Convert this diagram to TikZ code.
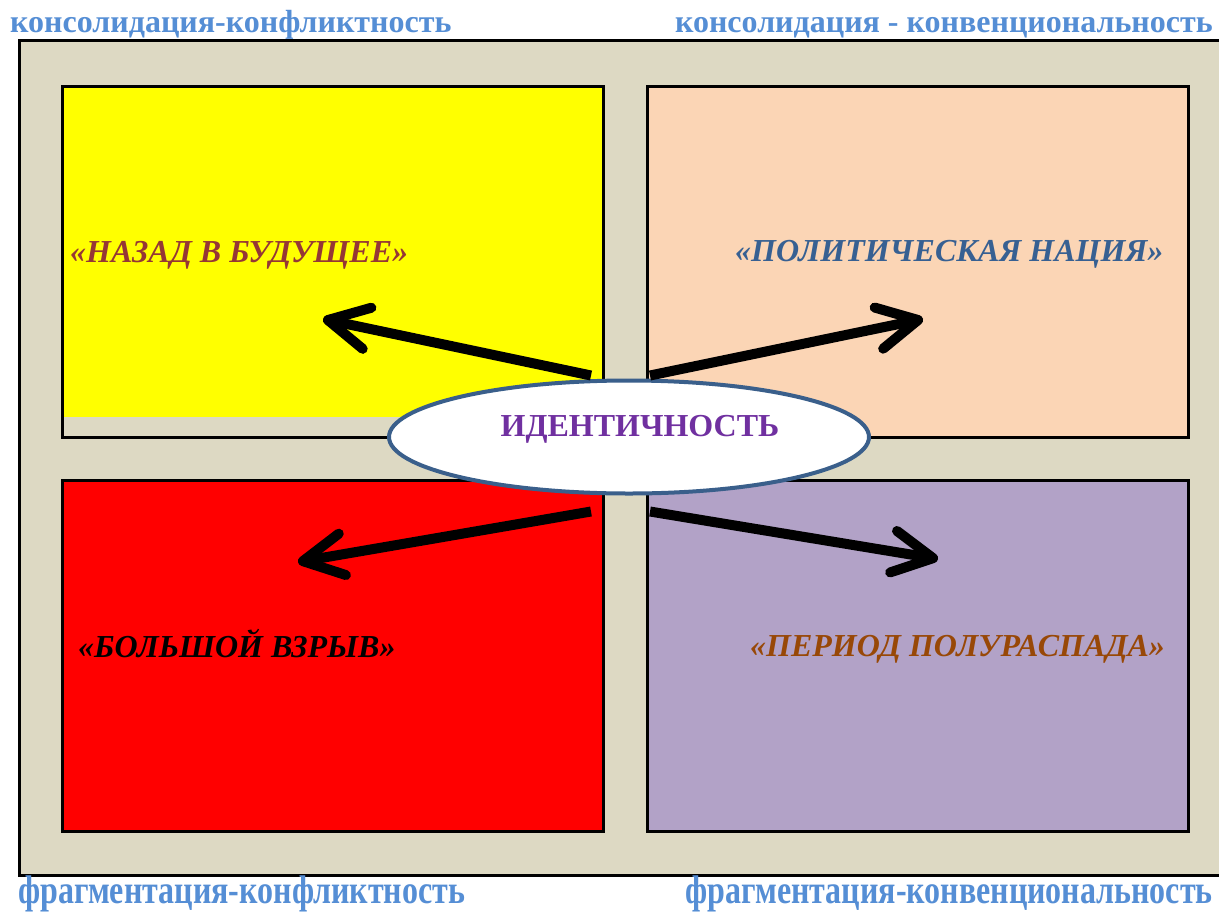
\documentclass[tikz,border=0pt]{standalone}
\usepackage{fontspec}
\setmainfont{Liberation Serif}
\usetikzlibrary{arrows.meta,shapes.geometric}
\definecolor{beige}{RGB}{221,217,195}
\definecolor{yel}{RGB}{255,255,0}
\definecolor{redq}{RGB}{255,0,0}
\definecolor{peach}{RGB}{251,213,181}
\definecolor{lilac}{RGB}{178,162,199}
\definecolor{ellblue}{RGB}{58,95,139}
\definecolor{idcol}{RGB}{112,48,160}
\definecolor{cornercol}{RGB}{85,142,213}
\definecolor{darkred}{RGB}{149,55,53}
\definecolor{steelblue}{RGB}{55,96,146}
\definecolor{brownq}{RGB}{152,72,7}
\begin{document}
\begin{tikzpicture}[x=1pt,y=-1pt,
  quad/.style={draw=black,line width=2.5pt,minimum width=541pt,minimum height=351pt,inner sep=0pt,anchor=north west},
  lab/.style={font=\fontsize{32}{38}\selectfont\bfseries\itshape,inner sep=0pt,anchor=base west},
  corner/.style={font=\fontsize{32}{38}\selectfont\bfseries,text=cornercol,inner sep=0pt,anchor=base west},
  bcorner/.style={font=\fontsize{40}{46}\selectfont\bfseries,text=cornercol,inner sep=0pt,anchor=base west,xscale=0.80},
  arr/.style={line width=10pt,-{Straight Barb[length=40pt,width=42pt,round]}}]
\useasboundingbox (0,0) rectangle (1219,911);
\fill[white] (0,0) rectangle (1219,911);
% outer frame
\draw[fill=beige,line width=3pt] (19,40) rectangle (1240,875);
% quadrants
\node[quad,fill=beige,path picture={\fill[yel] (path picture bounding box.north west) rectangle ([yshift=20pt]path picture bounding box.south east);}] (nw) at (61,85) {};
\node[quad,fill=peach] (ne) at (646,85) {};
\node[quad,fill=redq] (sw) at (61,479) {};
\node[quad,fill=lilac] (se) at (646,479) {};
% labels
\node[lab,text=darkred] (l1) at (70,262) {«НАЗАД В БУДУЩЕЕ»};
\node[lab,text=steelblue] (l2) at (735,261) {«ПОЛИТИЧЕСКАЯ НАЦИЯ»};
\node[lab,text=black] (l3) at (78,657) {«БОЛЬШОЙ ВЗРЫВ»};
\node[lab,text=brownq] (l4) at (750,656) {«ПЕРИОД ПОЛУРАСПАДА»};
% centre
\node[ellipse,draw=ellblue,line width=4pt,fill=white,minimum width=480pt,minimum height=113pt,inner sep=0pt,
  label={[font=\fontsize{32}{36}\selectfont\bfseries,text=idcol,yshift=8pt,xshift=11pt]center:ИДЕНТИЧНОСТЬ}] (ell) at (629,437) {};
% arrow targets
\coordinate (t1) at (323,319);
\coordinate (t2) at (923,319);
\coordinate (t3) at (298,562);
\coordinate (t4) at (938,559);
\draw[arr] ([xshift=-38pt,yshift=3pt]ell.north) -- (t1);
\draw[arr] ([xshift=21pt,yshift=3pt]ell.north) -- (t2);
\draw[arr] ([xshift=-38pt,yshift=-16pt]ell.south) -- (t3);
\draw[arr] ([xshift=21pt,yshift=-16pt]ell.south) -- (t4);
% corner captions
\node[corner] (c1) at (10,32) {консолидация-конфликтность};
\node[corner,anchor=base east] (c2) at (1213,32) {консолидация - конвенциональность};
\node[bcorner] (c3) at (18,903) {фрагментация-конфликтность};
\node[bcorner,anchor=base east] (c4) at (1213,903) {фрагментация-конвенциональность};
\end{tikzpicture}
\end{document}
